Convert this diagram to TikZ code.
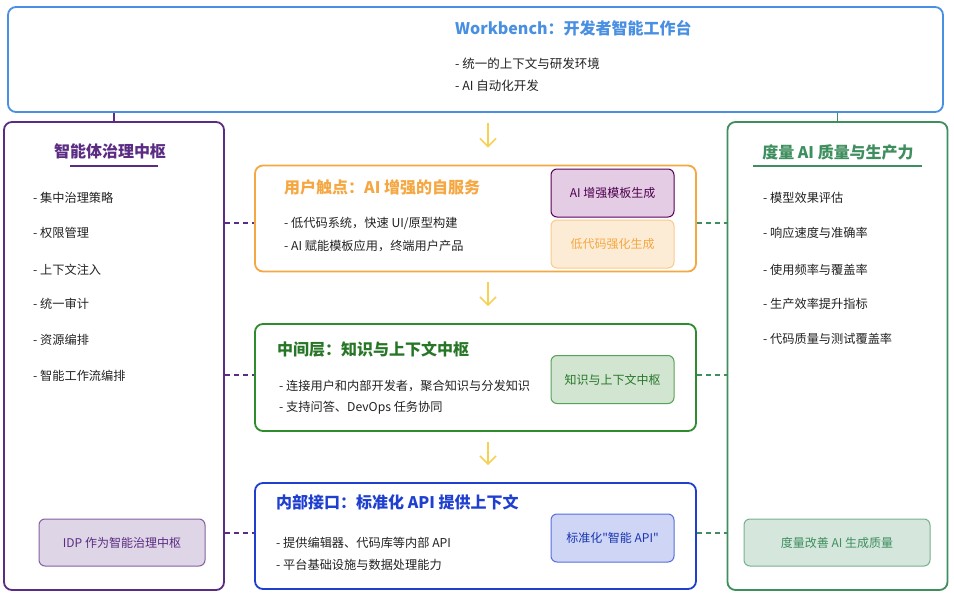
\documentclass[tikz,border=0pt]{standalone}
\usepackage{fontspec}
\setmainfont{Noto Sans CJK SC}[Ligatures=TeXOff]
\usetikzlibrary{arrows.meta}
\definecolor{wbblue}{HTML}{4A90E2}
\definecolor{hubpurple}{HTML}{5B2C83}
\definecolor{hubgreen}{HTML}{3E8E5E}
\definecolor{userorange}{HTML}{F5A742}
\definecolor{midgreen}{HTML}{2E8B2E}
\definecolor{apiblue}{HTML}{1F3FD0}
\definecolor{flowyellow}{HTML}{F7D154}
\definecolor{textdark}{HTML}{222222}

\begin{document}
\begin{tikzpicture}[x=1pt,y=-1pt,
    box/.style={draw,rounded corners=8pt,line width=1.8pt,fill=white,inner sep=0pt},
    sub/.style={draw,rounded corners=6pt,line width=1pt,minimum width=123pt,minimum height=48pt,font=\fontsize{12}{14}\selectfont},
    head/.style={anchor=west,inner sep=0pt,font=\fontsize{16}{18}\selectfont\bfseries},
    item/.style={anchor=west,inner sep=0pt,text=textdark,font=\fontsize{12.2}{14}\selectfont},
    flow/.style={draw=flowyellow,line width=1.6pt,-{Straight Barb[length=8pt,width=16pt]},shorten <=10pt,shorten >=17pt},
    link/.style={dash pattern=on 5pt off 4pt,line width=2pt}]
\useasboundingbox (0,0) rectangle (954,597);

% top: workbench
\node[box,draw=wbblue,minimum width=935pt,minimum height=105pt] (wb) at (475.5,59.5) {};
\node[head,text=wbblue] (wbtitle) at (455,28) {Workbench：开发者智能工作台};
\node[item,font=\fontsize{12.5}{15}\selectfont] (wb1) at (455,64) {- 统一的上下文与研发环境};
\node[item,font=\fontsize{12.5}{15}\selectfont] (wb2) at (455,86) {- AI 自动化开发};

% left: governance hub
\node[box,draw=hubpurple,minimum width=220pt,minimum height=468pt] (lhub) at (114,356) {};
\node[head,anchor=center,text=hubpurple] (ltitle) at (110,151) {智能体治理中枢};
\draw[hubpurple,line width=2pt] (70,166) -- (158,166);
\node[item] (l1) at (33,198) {- 集中治理策略};
\node[item] (l2) at (33,233) {- 权限管理};
\node[item] (l3) at (33,270) {- 上下文注入};
\node[item] (l4) at (33,304) {- 统一审计};
\node[item] (l5) at (33,340) {- 资源编排};
\node[item] (l6) at (33,376) {- 智能工作流编排};
\node[sub,draw=hubpurple!75,fill=hubpurple!20,text=hubpurple,minimum width=166pt,minimum height=47pt] (lbox) at (122,542.5) {IDP 作为智能治理中枢};

% right: metrics
\node[box,draw=hubgreen,minimum width=220pt,minimum height=468pt] (rhub) at (837.5,356) {};
\node[head,anchor=center,text=hubgreen] (rtitle) at (838,152) {度量 AI 质量与生产力};
\draw[hubgreen,line width=2pt] (753,166) -- (922,166);
\node[item] (r1) at (763,198) {- 模型效果评估};
\node[item] (r2) at (763,233) {- 响应速度与准确率};
\node[item] (r3) at (763,270) {- 使用频率与覆盖率};
\node[item] (r4) at (763,304) {- 生产效率提升指标};
\node[item] (r5) at (763,339) {- 代码质量与测试覆盖率};
\node[sub,draw=hubgreen!70,fill=hubgreen!22,text=hubgreen,minimum width=186pt,minimum height=47pt] (rbox) at (837,542.5) {度量改善 AI 生成质量};

% center layers
\node[box,draw=userorange,minimum width=441pt,minimum height=106pt] (user) at (475.5,218.5) {};
\node[head,text=userorange] (utitle) at (284,187) {用户触点：AI 增强的自服务};
\node[item] (u1) at (284,223) {- 低代码系统，快速 UI/原型构建};
\node[item] (u2) at (284,246) {- AI 赋能模板应用，终端用户产品};
\node[sub,draw=violet!70!black,fill=violet!20,text=violet!60!black] (ubox1) at (612.5,193) {AI 增强模板生成};
\node[sub,draw=userorange!60,fill=userorange!22,text=userorange] (ubox2) at (612.5,244) {低代码强化生成};

\node[box,draw=midgreen,minimum width=441pt,minimum height=107pt] (mid) at (475.5,377.5) {};
\node[head,text=midgreen!85!black] (mtitle) at (277,349) {中间层：知识与上下文中枢};
\node[item] (m1) at (279,386) {- 连接用户和内部开发者，聚合知识与分发知识};
\node[item] (m2) at (279,408) {- 支持问答、DevOps 任务协同};
\node[sub,draw=midgreen!80,fill=midgreen!22,text=midgreen!85!black] (mbox) at (612.5,379.5) {知识与上下文中枢};

\node[box,draw=apiblue,minimum width=441pt,minimum height=106pt] (api) at (475.5,536) {};
\node[head,text=apiblue] (atitle) at (276,502) {内部接口：标准化 API 提供上下文};
\node[item] (a1) at (276,543) {- 提供编辑器、代码库等内部 API};
\node[item] (a2) at (276,565) {- 平台基础设施与数据处理能力};
\node[sub,draw=apiblue!75,fill=apiblue!22,text=apiblue!85!black] (abox) at (612.5,538) {标准化"智能 API"};

% connectors
\draw[hubpurple,line width=1.5pt] (wb.south -| lhub.north) -- (lhub.north);
\draw[hubgreen,line width=1.5pt] (wb.south -| rhub.north) -- (rhub.north);
\draw[flow] ([xshift=12.5pt]wb.south) -- ([xshift=12.5pt]user.north);
\draw[flow] ([xshift=12.5pt]user.south) -- ([xshift=12.5pt]mid.north);
\draw[flow] ([xshift=12.5pt]mid.south) -- ([xshift=12.5pt]api.north);
\foreach \n/\dy in {user/-4.5,mid/2.5,api/3}{
  \draw[link,hubpurple] ([yshift=\dy pt]\n.west -| lhub.east) -- ([yshift=\dy pt]\n.west);
  \draw[link,hubgreen] ([yshift=\dy pt]\n.east) -- ([yshift=\dy pt]\n.east -| rhub.west);
}
\end{tikzpicture}
\end{document}
